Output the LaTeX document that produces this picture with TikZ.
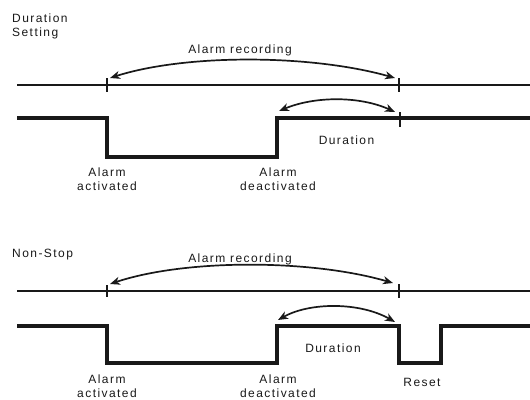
\documentclass[tikz,border=0pt]{standalone}
\usepackage{fontspec}
\setmainfont{Liberation Sans}[LetterSpace=12]
\usetikzlibrary{arrows.meta}
\begin{document}
\begin{tikzpicture}[x=1pt,y=-1pt,
  lbl/.style={font=\fontsize{12}{14.5}\selectfont, inner sep=0pt, text=black!90},
  lblc/.style={lbl, align=center, anchor=north},
  lbll/.style={lbl, align=left, anchor=north west},
  timeline/.style={line width=1.9pt, black!90},
  tick/.style={line width=1.6pt, black!90},
  signal/.style={line width=3.4pt, black!90, line join=miter},
  span/.style={line width=1.7pt, black!90, {Stealth[length=10pt,width=8pt,inset=3pt]}-{Stealth[length=10pt,width=8pt,inset=3pt]}}
]
\useasboundingbox (0,0) rectangle (530,399);

% ===== Duration Setting =====
\node[lbll] (t1) at (12,13.5) {Duration\\Setting};
\node[lbl, anchor=base] (rec1) at (240,53) {Alarm recording};

\coordinate (l1s) at (17,85);
\coordinate (l1e) at (530,85);
\draw[timeline] (l1s) -- (l1e);
\coordinate (k1a) at (107,78); \coordinate (k1b) at (107,92);
\coordinate (k1c) at (399,78); \coordinate (k1d) at (399,92);
\draw[tick] (k1a) -- (k1b);
\draw[tick] (k1c) -- (k1d);
\coordinate (r1a) at (110,78); \coordinate (r1b) at (395,78);
\draw[span] (r1a) .. controls (185,54) and (310,54) .. (r1b);

\coordinate (s1a) at (17,118);
\coordinate (s1b) at (107,118);
\coordinate (s1c) at (107,157);
\coordinate (s1d) at (277,157);
\coordinate (s1e) at (277,118);
\coordinate (s1f) at (530,118);
\draw[signal] (s1a) -- (s1b) -- (s1c) -- (s1d) -- (s1e) -- (s1f);
\coordinate (k1e) at (400,112); \coordinate (k1f) at (400,127);
\draw[tick] (k1e) -- (k1f);
\coordinate (d1a) at (279,111); \coordinate (d1b) at (395,112);
\draw[span] (d1a) .. controls (315,96) and (360,96) .. (d1b);
\node[lbl, anchor=base] (dur1) at (346.5,144) {Duration};

\node[lblc] (act1) at (107,167.3) {Alarm\\activated};
\node[lblc] (deact1) at (278,167.3) {Alarm\\deactivated};

% ===== Non-Stop =====
\node[lbl, anchor=base west] (t2) at (12,257) {Non-Stop};
\node[lbl, anchor=base] (rec2) at (240,262) {Alarm recording};

\coordinate (l2s) at (17,291);
\coordinate (l2e) at (530,291);
\draw[timeline] (l2s) -- (l2e);
\coordinate (k2a) at (107,285); \coordinate (k2b) at (107,297);
\coordinate (k2c) at (399,284); \coordinate (k2d) at (399,298);
\draw[tick] (k2a) -- (k2b);
\draw[tick] (k2c) -- (k2d);
\coordinate (r2a) at (110,284); \coordinate (r2b) at (393,283);
\draw[span] (r2a) .. controls (185,259) and (310,259) .. (r2b);

\coordinate (s2a) at (17,326);
\coordinate (s2b) at (107,326);
\coordinate (s2c) at (107,363);
\coordinate (s2d) at (277,363);
\coordinate (s2e) at (277,326);
\coordinate (s2f) at (399,326);
\coordinate (s2g) at (399,363);
\coordinate (s2h) at (441,363);
\coordinate (s2i) at (441,326);
\coordinate (s2j) at (530,326);
\draw[signal] (s2a) -- (s2b) -- (s2c) -- (s2d) -- (s2e) -- (s2f) -- (s2g) -- (s2h) -- (s2i) -- (s2j);
\coordinate (d2a) at (278,320); \coordinate (d2b) at (395,322);
\draw[span] (d2a) .. controls (310,302) and (360,302) .. (d2b);
\node[lbl, anchor=base] (dur2) at (333,352) {Duration};

\node[lblc] (act2) at (107,374.3) {Alarm\\activated};
\node[lblc] (deact2) at (278,374.3) {Alarm\\deactivated};
\node[lbl, anchor=base] (reset) at (422,386) {Reset};
\end{tikzpicture}
\end{document}
